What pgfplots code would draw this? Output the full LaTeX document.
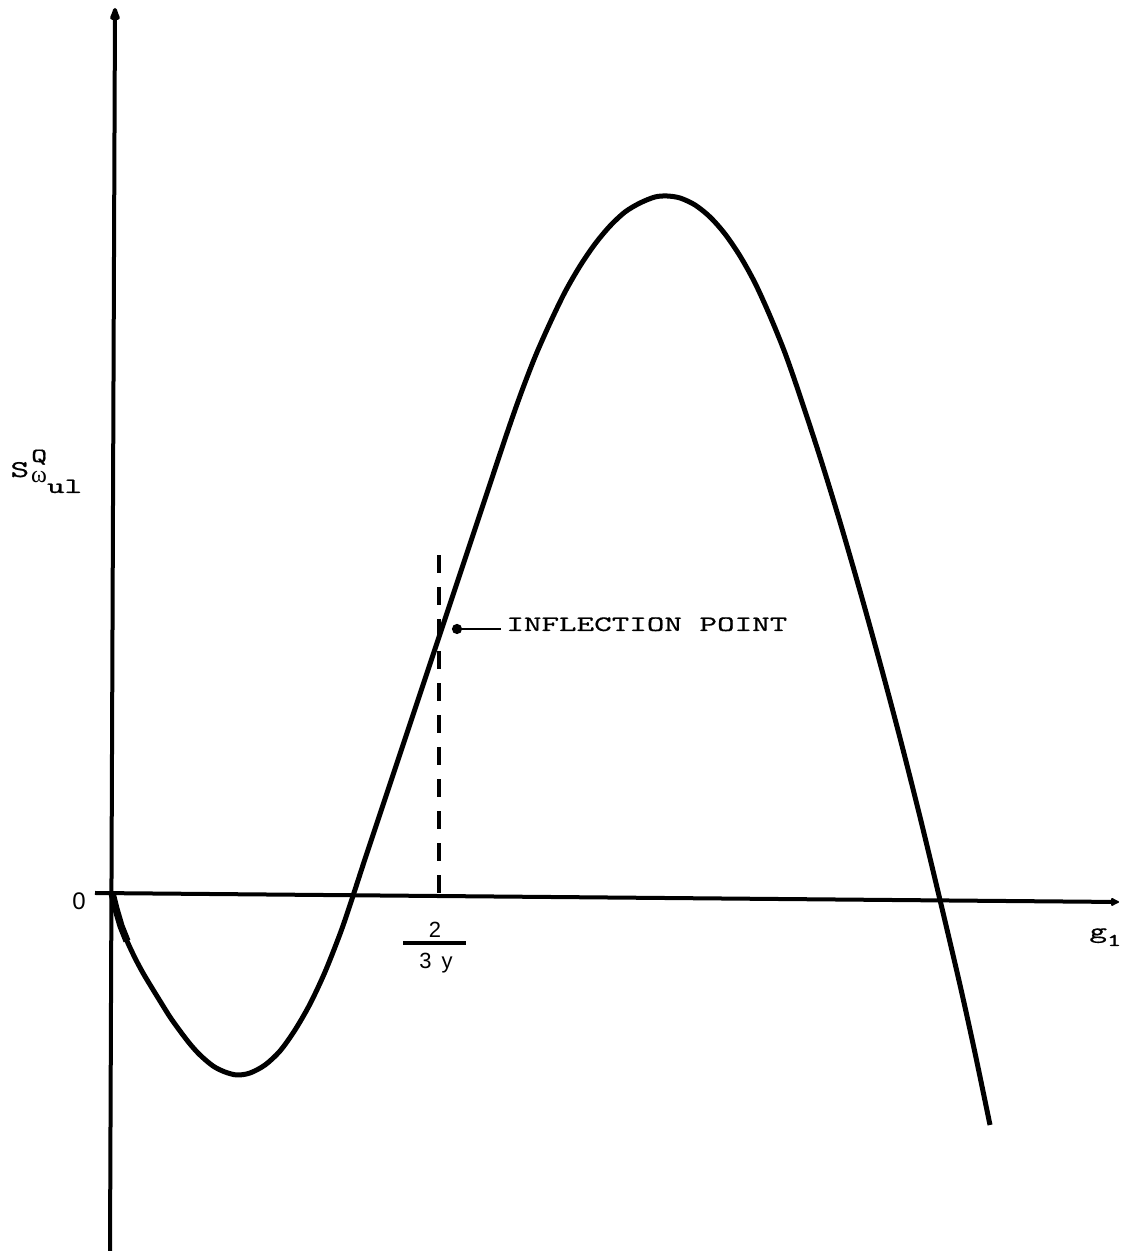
\documentclass[border=0pt]{standalone}
\usepackage{fontspec}
\usepackage{graphicx}
\usepackage{pgfplots}
\pgfplotsset{compat=1.18}
\usetikzlibrary{arrows.meta}
\newfontfamily\sansf{Liberation Sans}
\newfontfamily\grk{Liberation Serif}
\newfontfamily\twf[FakeBold=0.6]{Latin Modern Mono}
\newcommand{\tw}[2]{\scalebox{1.52}[1]{\fontsize{#1}{#1}\selectfont\twf #2}}
\begin{document}
\begin{tikzpicture}
\begin{axis}[
  scale only axis,
  width=560pt, height=625.5pt,
  xmin=-113, xmax=1007, ymin=-358, ymax=893,
  axis lines=none, xtick=\empty, ytick=\empty,
  clip=false,
]
% axes
\draw[line width=2pt, -{Latex[length=10pt,width=6pt,round]}] (axis cs:-3,-358) -- (axis cs:2,885);
\draw[line width=2pt, -{Latex[length=5pt,width=5pt,round]}] (axis cs:-18,0) -- (axis cs:1006,-9);
% curve
\addplot[line width=2.5pt, smooth, tension=0.5] coordinates {
(-1,0) (3,-16) (8,-33) (14,-48) (22,-65) (30,-80) (39,-95) (47,-108) (57,-124)
(67,-138) (77,-151) (87,-162) (100,-173) (112,-179) (124,-182)
(137,-180) (152,-172) (167,-158) (182,-137) (197,-111) (212,-79) (227,-41) (237,-12)
(252,34) (267,79) (287,139) (307,199) (327,259) (347,319) (367,379) (392,454)
(407,497) (422,536) (437,570) (452,601) (467,627) (482,649) (497,667) (512,681)
(527,690) (542,696) (554,697)
(567,695) (582,688) (597,676) (612,659) (627,637) (642,610) (657,577) (672,540) (687,497)
(707,436) (727,371) (747,302) (767,230) (787,155) (807,76) (827,-7) (847,-92) (862,-160) (877,-232)
};
\addplot[line width=3.6pt] coordinates {(-1,0) (3,-16) (8,-33) (14,-48)};
% dashed line at 2/(3y)
\addplot[line width=2pt, dash pattern=on 9pt off 7pt] coordinates {(326,0) (326,340)};
% leader
\draw[line width=1.4pt, {Circle[length=5pt]}-] (axis cs:339,264) -- (axis cs:388,264);
\node[anchor=base west, inner sep=0pt] at (axis cs:393,262) {\tw{11}{INFLECTION POINT}};
% labels
\node[inner sep=0pt] at (axis cs:-34,-8) {\sansf\fontsize{12}{12}\selectfont 0};
\node[inner sep=0pt] at (axis cs:322,-37) {\sansf\fontsize{11}{11}\selectfont 2};
\draw[line width=2pt] (axis cs:290,-50) -- (axis cs:353,-50);
\node[inner sep=0pt] at (axis cs:323,-70) {\sansf\fontsize{11}{11}\selectfont 3\hspace{5pt}y};
\node[anchor=base west, inner sep=0pt] at (axis cs:976,-45) {\tw{11}{g}\raisebox{-4pt}{\tw{9}{1}}};
\node[anchor=base west, inner sep=0pt] at (axis cs:-103,416) {\tw{12}{S}\kern1pt\rlap{\raisebox{7.5pt}{\tw{10}{Q}}}\raisebox{-3pt}{{\grk\fontsize{12}{12}\selectfont ω}\raisebox{-5pt}{\tw{11}{ul}}}};
\end{axis}
\pgfresetboundingbox
\path (current axis.south west) rectangle (current axis.north east);
\end{tikzpicture}
\end{document}
